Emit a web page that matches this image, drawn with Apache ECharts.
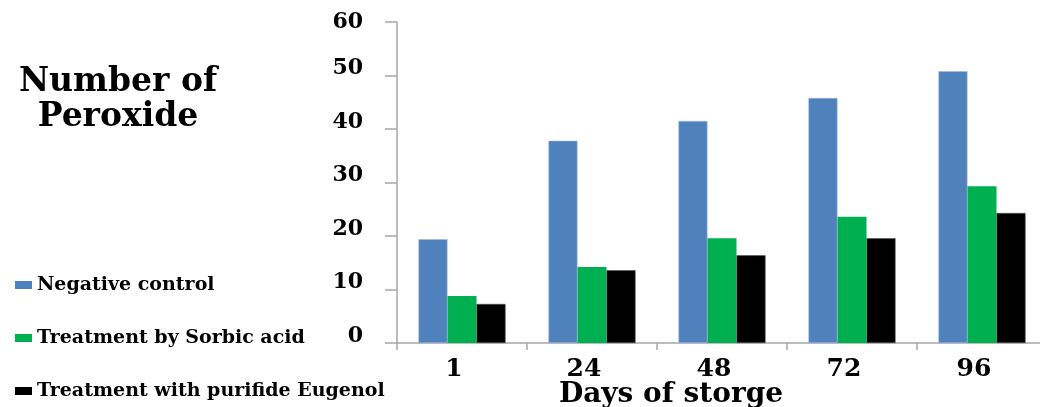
<!DOCTYPE html>
<html>
<head>
<meta charset="utf-8">
<script src="https://cdn.jsdelivr.net/npm/echarts@6/dist/echarts.min.js"></script>
<style>
html,body{margin:0;padding:0;background:#fff;}
#chart{width:1040px;height:407px;}
</style>
</head>
<body>
<div id="chart"></div>
<script>
const categories = ['1', '24', '48', '72', '96'];
const negativeControl = [19.4, 37.8, 41.5, 45.8, 50.8];
const sorbicAcid = [8.8, 14.2, 19.6, 23.6, 29.3];
const eugenol = [7.3, 13.6, 16.4, 19.6, 24.3];
const seriesNames = ['Negative control', 'Treatment by Sorbic acid', 'Treatment with purifide Eugenol'];
const yTitle = 'Number of\nPeroxide';
const xTitle = 'Days of storge';

const FONT = 'DejaVu Serif';
const axisColor = '#a6a6a6';

const chart = echarts.init(document.getElementById('chart'), null, {renderer: 'canvas'});
chart.setOption({
  animation: false,
  backgroundColor: '#ffffff',
  title: {
    text: yTitle,
    left: 118,
    top: 65,
    padding: 0,
    textAlign: 'center',
    textStyle: {fontFamily: FONT, fontWeight: 'bold', fontSize: 33, lineHeight: 35, color: '#000'}
  },
  legend: {
    orient: 'vertical',
    left: 15,
    top: 275,
    padding: 0,
    height: 132,
    itemWidth: 17,
    itemHeight: 8,
    itemGap: 33,
    icon: 'rect',
    itemStyle: {borderWidth: 0},
    textStyle: {fontFamily: FONT, fontWeight: 'bold', fontSize: 19, lineHeight: 20, color: '#000'},
    data: seriesNames
  },
  grid: {left: 397, right: -7, top: 22, bottom: 64, containLabel: false, outerBoundsMode: 'none'},
  xAxis: {
    type: 'category',
    data: categories,
    boundaryGap: true,
    axisLine: {show: true, lineStyle: {color: axisColor, width: 1.5}},
    axisTick: {show: true, interval: 0, length: 7, lineStyle: {color: axisColor, width: 1.5}},
    axisLabel: {
      interval: 0, margin: 14, color: '#000',
      fontFamily: FONT, fontWeight: 'bold', fontSize: 25,
      padding: [0, 16, 0, 0]
    },
    name: xTitle,
    nameLocation: 'middle',
    nameGap: 38,
    nameMoveOverlap: false,
    nameTextStyle: {fontFamily: FONT, fontWeight: 'bold', fontSize: 28, color: '#000', padding: [0, 102, 0, 0]}
  },
  yAxis: {
    type: 'value',
    min: 0, max: 60, interval: 10,
    splitLine: {show: false},
    axisLine: {show: true, lineStyle: {color: axisColor, width: 1.5}},
    axisTick: {show: true, length: 12, lineStyle: {color: axisColor, width: 1.5}},
    axisLabel: {
      margin: 34, color: '#000',
      fontFamily: FONT, fontWeight: 'bold', fontSize: 22,
      formatter: function (v) { return v === 60 ? '{t|' + v + '}' : '{n|' + v + '}'; },
      rich: {
        t: {fontFamily: FONT, fontWeight: 'bold', fontSize: 22, color: '#000'},
        n: {fontFamily: FONT, fontWeight: 'bold', fontSize: 22, color: '#000', padding: [0, 0, 14, 0]}
      }
    }
  },
  series: [
    {name: seriesNames[0], type: 'bar', data: negativeControl, barGap: '0%', barCategoryGap: '33%',
     itemStyle: {color: '#4f81bd', borderColor: '#9cb8dc', borderWidth: 0.6}},
    {name: seriesNames[1], type: 'bar', data: sorbicAcid, barGap: '0%', barCategoryGap: '33%',
     itemStyle: {color: '#00b050'}},
    {name: seriesNames[2], type: 'bar', data: eugenol, barGap: '0%', barCategoryGap: '33%',
     itemStyle: {color: '#000000', borderColor: '#555555', borderWidth: 0.6}}
  ]
});
</script>
</body>
</html>
